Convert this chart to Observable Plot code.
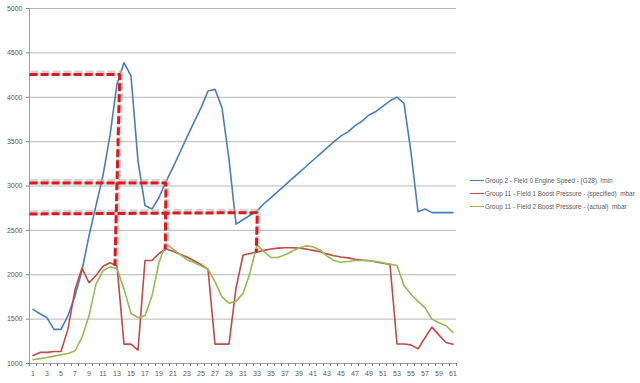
<!DOCTYPE html>
<html><head><meta charset="utf-8">
<script src="https://cdn.jsdelivr.net/npm/d3@7"></script>
<script src="https://cdn.jsdelivr.net/npm/@observablehq/plot@0.6"></script>
<style>
body{margin:0;background:#fff;}
#wrap{position:relative;width:640px;height:383px;overflow:hidden;}
#legend{position:absolute;left:470px;top:173.5px;width:170px;font-family:"Liberation Sans",Arial,sans-serif;font-size:6.4px;color:#595959;}
.item{display:flex;align-items:center;height:13.3px;white-space:pre;}
.sw{flex:none;width:14px;height:0;border-top:1.5px solid;margin-right:1px;}
</style></head><body><div id="wrap"><div id="legend"></div></div>
<script>
const categories = [1,2,3,4,5,6,7,8,9,10,11,12,13,14,15,16,17,18,19,20,21,22,23,24,25,26,27,28,29,30,31,32,33,34,35,36,37,38,39,40,41,42,43,44,45,46,47,48,49,50,51,52,53,54,55,56,57,58,59,60,61];
const seriesNames = [
  "Group 2 - Field 0 Engine Speed - (G28)  /min",
  "Group 11 - Field 1 Boost Pressure - (specified)  mbar",
  "Group 11 - Field 2 Boost Pressure - (actual)  mbar"
];
const seriesColors = ["#4a7ebb", "#be4b48", "#98b954"];
const engineSpeed = [1610,1560,1515,1385,1385,1540,1760,2050,2440,2780, 3120,3570,4150,4390,4240,3280,2780,2740,2870,3050, 3210,3380,3550,3720,3880,4070,4090,3880,3300,2570, 2620,2670,2720,2800,2870,2940,3010,3080,3150,3220, 3290,3360,3430,3500,3565,3610,3680,3730,3800,3840, 3900,3960,4000,3930,3380,2710,2740,2700,2700,2700,2700];
const boostSpecified = [1090,1125,1125,1135,1135,1390,1830,2075,1910,1990, 2095,2135,2100,1218,1218,1150,2160,2160,2240,2290, 2265,2230,2200,2157,2115,2063,1218,1218,1218,1850, 2220,2240,2255,2275,2290,2300,2305,2305,2300,2290, 2275,2260,2235,2215,2200,2190,2175,2165,2160,2145, 2130,2115,1220,1220,1210,1165,1290,1410,1320,1237,1218];
const boostActual = [1042,1055,1068,1083,1098,1113,1143,1293,1537,1894, 2044,2089,2070,1838,1563,1518,1537,1762,2137,2350, 2290,2230,2170,2137,2100,2063,1920,1750,1680,1700, 1790,2020,2340,2260,2195,2195,2225,2265,2300,2325, 2315,2280,2210,2160,2140,2150,2160,2160,2158,2150, 2135,2120,2105,1880,1780,1700,1630,1500,1460,1425,1350];
const yTicks = [1000,1500,2000,2500,3000,3500,4000,4500,5000];
const xTickLabels = categories.filter(c => c % 2 === 1);
// hand-drawn dashed callouts (category position, value)
const callout1X = [0.5, 13.4, 12.7];
const callout1Y = [4255, 4255, 2100];
const callout2X = [0.5, 20.0, 19.9];
const callout2Y = [3035, 3035, 2290];
const callout3X = [0.5, 33.05, 32.9];
const callout3Y = [2685, 2700, 2250];

const seriesValues = [engineSpeed, boostSpecified, boostActual];
const rows = seriesValues.map(vals => categories.map((c, i) => ({x: c, y: vals[i]})));
const callouts = [[callout1X, callout1Y], [callout2X, callout2Y], [callout3X, callout3Y]]
  .flatMap(([xs, ys], k) => xs.map((x, i) => ({x, y: ys[i], id: k})));
const boundaries = [0, ...categories].map(c => c + 0.5);

const chart = Plot.plot({
  width: 640, height: 383,
  marginLeft: 29, marginRight: 184, marginTop: 8, marginBottom: 20,
  style: {fontFamily: "'Liberation Sans', Arial, sans-serif", fontSize: "7px", color: "#595959", background: "transparent"},
  x: {type: "linear", domain: [0.5, 61.5], label: null},
  y: {domain: [1000, 5000], label: null},
  marks: [
    Plot.gridY(yTicks.slice(1), {stroke: "#a6a6a6", strokeOpacity: 1, strokeWidth: 0.8}),
    Plot.axisY({ticks: yTicks, tickSize: 3, tickPadding: 4, tickFormat: d => String(d), stroke: "#868686", fontSize: 7, label: null}),
    Plot.axisX({ticks: boundaries, tickSize: 3, tickFormat: () => "", stroke: "#868686", label: null}),
    Plot.axisX({ticks: xTickLabels, tickSize: 0, tickPadding: 8, tickFormat: d => String(d), fontSize: 7, label: null}),
    Plot.ruleY([1000], {stroke: "#868686", strokeWidth: 0.8}),
    Plot.ruleX([0.5], {stroke: "#868686", strokeWidth: 0.8}),
    ...rows.map((r, k) => Plot.line(r, {x: "x", y: "y", stroke: seriesColors[k], strokeWidth: 1.6})),
    Plot.line(callouts, {x: "x", y: "y", z: "id", stroke: "#b8b8b8", strokeOpacity: 0.6, strokeWidth: 5, strokeDasharray: "8,3", strokeLinecap: "butt", strokeLinejoin: "miter", dx: 1, dy: -1.5}),
    Plot.line(callouts, {x: "x", y: "y", z: "id", stroke: "#e3171b", strokeWidth: 3, strokeDasharray: "8,3", strokeLinecap: "butt", strokeLinejoin: "miter"})
  ]
});
const wrap = document.getElementById("wrap");
wrap.insertBefore(chart, wrap.firstChild);
const legend = document.getElementById("legend");
seriesNames.forEach((name, k) => {
  const item = document.createElement("div");
  item.className = "item";
  const sw = document.createElement("span");
  sw.className = "sw";
  sw.style.borderTopColor = seriesColors[k];
  item.appendChild(sw);
  item.appendChild(document.createTextNode(name));
  legend.appendChild(item);
});
</script>
</body></html>
